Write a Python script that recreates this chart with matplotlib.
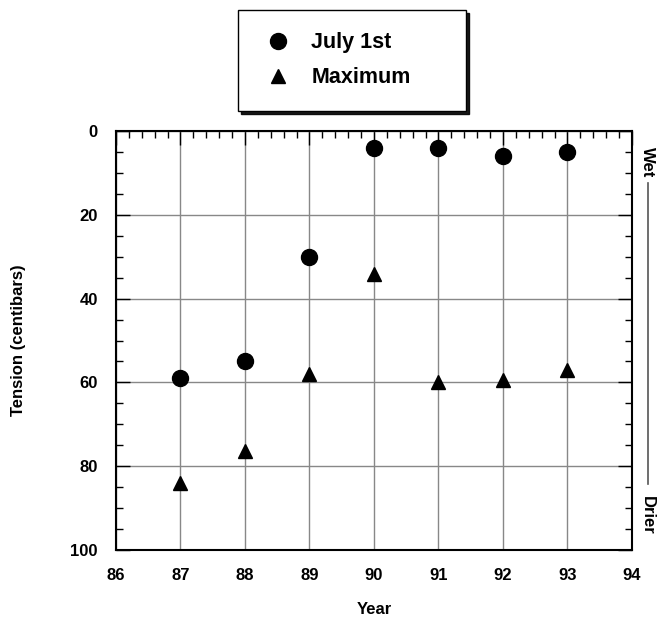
import matplotlib.pyplot as plt
from matplotlib.ticker import MultipleLocator
from matplotlib.lines import Line2D

plt.rcParams['font.family'] = ['Liberation Sans', 'DejaVu Sans']
plt.rcParams['font.weight'] = 'bold'

years = [87, 88, 89, 90, 91, 92, 93]
july_1st = [59, 55, 30, 4, 4, 6, 5]
maximum = [84, 76.5, 58, 34, 60, 59.5, 57]

fig = plt.figure(figsize=(6.59, 6.22), dpi=100)
ax = fig.add_axes([0.176, 0.116, 0.783, 0.673])

ax.plot(years, july_1st, 'o', color='black', markersize=11.5, label='July 1st', zorder=3)
ax.plot(years, maximum, '^', color='black', markersize=10, label='Maximum', zorder=3)

ax.set_xlim(86, 94)
ax.set_ylim(100, 0)
ax.xaxis.set_major_locator(MultipleLocator(1))
ax.xaxis.set_minor_locator(MultipleLocator(0.2))
ax.yaxis.set_major_locator(MultipleLocator(20))
ax.yaxis.set_minor_locator(MultipleLocator(5))
ax.grid(True, which='major', color='#888888', linewidth=1)
ax.set_axisbelow(True)

ax.tick_params(axis='x', which='both', direction='in', bottom=False, top=True,
               labelbottom=True, pad=13)
ax.tick_params(axis='y', which='both', direction='in', left=True, right=True)
ax.tick_params(which='major', length=10, width=1)
ax.tick_params(which='minor', length=5, width=1)
ax.tick_params(axis='both', labelsize=12)
ax.tick_params(axis='y', pad=13)
for lab in ax.get_xticklabels() + ax.get_yticklabels():
    lab.set_fontweight('bold')
for s in ax.spines.values():
    s.set_linewidth(1.5)

ax.set_xlabel('Year', fontsize=12, fontweight='bold', labelpad=14)
ax.set_ylabel('Tension (centibars)', fontsize=12, fontweight='bold', labelpad=32)

# Wet / Drier indicator on the right
fig.text(0.983, 0.74, 'Wet', rotation=-90, fontsize=12, fontweight='bold',
         ha='center', va='center')
fig.text(0.983, 0.172, 'Drier', rotation=-90, fontsize=12, fontweight='bold',
         ha='center', va='center')
fig.add_artist(Line2D([0.983, 0.983], [0.705, 0.222], color='#555555', linewidth=1.2))

# legend box spans a fixed width, wider than its contents
leg = fig.legend(loc='lower left', bbox_to_anchor=(0.3612, 0.8215, 0.346, 0.164),
                 mode='expand', frameon=True, fancybox=False,
                 shadow={'color': 'black', 'alpha': 0.9},
                 edgecolor='black', fontsize=15.5, borderpad=1.05, labelspacing=0.65,
                 handletextpad=0.75, borderaxespad=0, handlelength=1.6)
leg.get_frame().set_linewidth(1)
for t in leg.get_texts():
    t.set_fontweight('bold')

fig.savefig('out.png', dpi=100)
